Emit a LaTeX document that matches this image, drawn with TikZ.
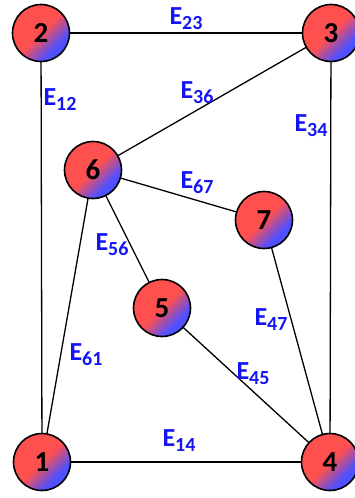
\documentclass[tikz,border=0pt]{standalone}
\usepackage{fontspec}
\setmainfont{Carlito}
\definecolor{nodered}{RGB}{255,80,80}
\definecolor{nodeblue}{RGB}{80,80,255}
\definecolor{lblblue}{RGB}{20,20,245}
\pgfdeclareverticalshading{nodeshade}{100bp}{color(0bp)=(nodeblue); color(32bp)=(nodeblue); color(50bp)=(nodered); color(100bp)=(nodered)}
\newcommand\esub[1]{\raisebox{-5pt}{\fontsize{20}{20}\selectfont #1}}
\begin{document}
\begin{tikzpicture}[x=1pt,y=-1pt,
  vertex/.style={circle,draw=black,line width=1.6pt,minimum size=57pt,inner sep=0pt,
    shading=nodeshade,shading angle=45,
    font=\fontsize{29}{29}\selectfont\bfseries},
  edge/.style={line width=1.3pt,black},
  elabel/.style={text=lblblue,inner sep=0pt,font=\fontsize{26}{26}\selectfont\bfseries}]
\useasboundingbox (0,0) rectangle (355,498);
\coordinate (p1) at (42,462);
\coordinate (p2) at (41,33);
\coordinate (p3) at (331,33);
\coordinate (p4) at (330,462);
\coordinate (p5) at (162,308);
\coordinate (p6) at (93,170);
\coordinate (p7) at (264,220);
\draw[edge] (p1) -- (p2);
\draw[edge] (p2) -- (p3);
\draw[edge] (p3) -- (p4);
\draw[edge] (p1) -- (p4);
\draw[edge] (p3) -- (p6);
\draw[edge] (p6) -- (p7);
\draw[edge] (p6) -- (p5);
\draw[edge] (p6) -- (p1);
\draw[edge] (p5) -- (p4);
\draw[edge] (p7) -- (p4);
\node[vertex] (n1) at (p1) {1};
\node[vertex] (n2) at (p2) {2};
\node[vertex] (n3) at (p3) {3};
\node[vertex] (n4) at (p4) {4};
\node[vertex] (n5) at (p5) {5};
\node[vertex] (n6) at (p6) {6};
\node[vertex] (n7) at (p7) {7};
\node[elabel] (e23) at (186,19) {E\esub{23}};
\node[elabel] (e12) at (60,100) {E\esub{12}};
\node[elabel] (e36) at (197,93) {E\esub{36}};
\node[elabel] (e34) at (311,126) {E\esub{34}};
\node[elabel] (e67) at (197,183) {E\esub{67}};
\node[elabel] (e56) at (112,245) {E\esub{56}};
\node[elabel] (e47) at (271,320) {E\esub{47}};
\node[elabel] (e61) at (86,355) {E\esub{61}};
\node[elabel] (e45) at (253,374) {E\esub{45}};
\node[elabel] (e14) at (179,441) {E\esub{14}};
\end{tikzpicture}
\end{document}
